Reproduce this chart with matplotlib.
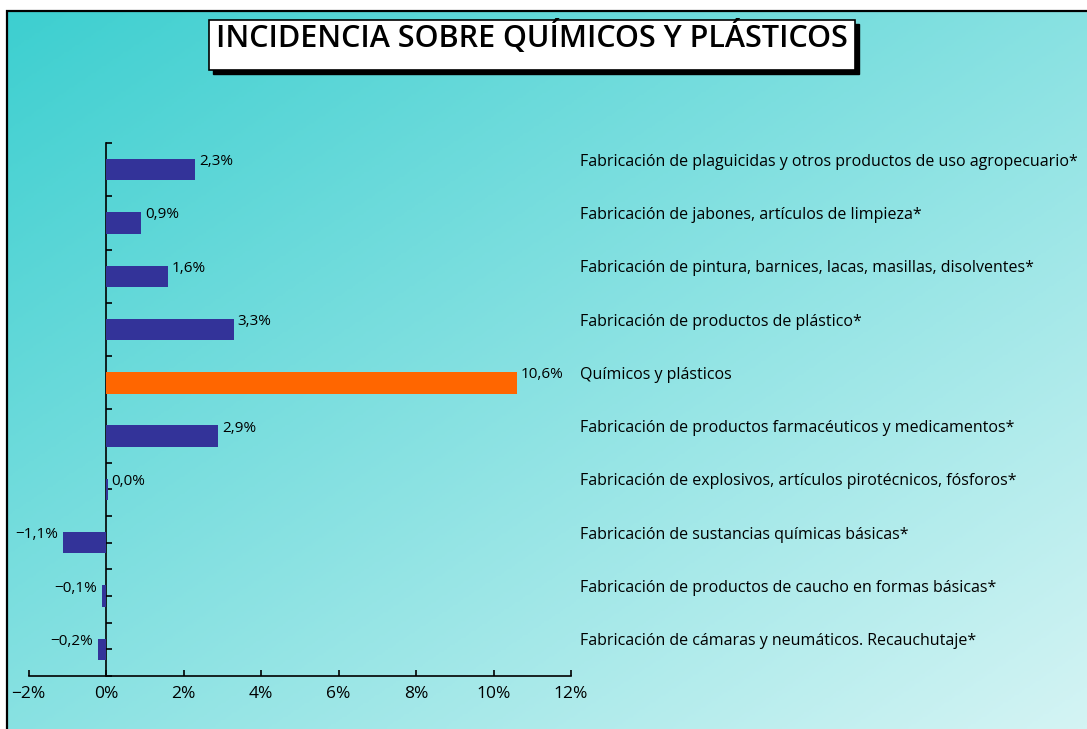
import numpy as np
import matplotlib.pyplot as plt
from matplotlib.patches import Rectangle
from matplotlib.colors import LinearSegmentedColormap

plt.rcParams['font.family'] = ['Open Sans', 'DejaVu Sans']

categorias = [
    'Fabricación de plaguicidas y otros productos de uso agropecuario*',
    'Fabricación de jabones, artículos de limpieza*',
    'Fabricación de pintura, barnices, lacas, masillas, disolventes*',
    'Fabricación de productos de plástico*',
    'Químicos y plásticos',
    'Fabricación de productos farmacéuticos y medicamentos*',
    'Fabricación de explosivos, artículos pirotécnicos, fósforos*',
    'Fabricación de sustancias químicas básicas*',
    'Fabricación de productos de caucho en formas básicas*',
    'Fabricación de cámaras y neumáticos. Recauchutaje*',
]
valores = [2.3, 0.9, 1.6, 3.3, 10.6, 2.9, 0.04, -1.1, -0.1, -0.2]
destacado = 'Químicos y plásticos'
ticks_x = [-2, 0, 2, 4, 6, 8, 10, 12]
titulo = 'INCIDENCIA SOBRE QUÍMICOS Y PLÁSTICOS'


def fmt(v):
    s = f'{v:.1f}%'.replace('.', ',')
    return s.replace('-', '\u2212')


W, H = 1087, 729
fig = plt.figure(figsize=(W / 100, H / 100), dpi=100)
fig.patch.set_facecolor('white')

# fondo degradado
bg = fig.add_axes([7 / W, 0, 1 - 7 / W, (H - 11) / H])
bg.set_axis_off()
xx, yy = np.meshgrid(np.linspace(0, 1, 400), np.linspace(0, 1, 300))
cmap = LinearSegmentedColormap.from_list('fondo', ['#3DCFD0', '#D4F4F4'])
bg.imshow((xx + yy) / 2, cmap=cmap, aspect='auto', extent=[0, 1, 1, 0])
fig.add_artist(Rectangle((7 / W, -0.1), 1.2, (H - 11) / H + 0.1, transform=fig.transFigure,
                         fill=False, lw=1.6, ec='black'))

ax = fig.add_axes([28.5 / W, (H - 676) / H, 542.5 / W, 533 / H])
ax.patch.set_visible(False)

y = np.arange(len(categorias))
colores = ['#FF6600' if c == destacado else '#333399' for c in categorias]
ax.barh(y, valores, height=0.4, color=colores, zorder=3)

ax.set_xlim(-2, 12)
ax.set_ylim(len(categorias) - 0.5, -0.5)
for s in ['top', 'right']:
    ax.spines[s].set_visible(False)
ax.spines['left'].set_position(('data', 0))
ax.spines['left'].set_linewidth(1.2)
ax.spines['bottom'].set_linewidth(1.2)

ax.set_yticks(np.arange(-0.5, len(categorias), 0.5))
ax.tick_params(axis='y', direction='in', length=4, width=1.2, labelleft=False)
ax.set_xticks(ticks_x)
ax.set_xticklabels([fmt(t).replace(',0', '') for t in ticks_x], fontsize=12.5)
ax.tick_params(axis='x', direction='in', length=4, width=1.2, pad=7)

for yi, v, c in zip(y, valores, categorias):
    if v >= 0:
        ax.annotate(fmt(v), (v, yi), xytext=(4, 8), textcoords='offset pixels',
                    ha='left', va='center', fontsize=11)
    else:
        ax.annotate(fmt(v), (v, yi), xytext=(-5, 8), textcoords='offset pixels',
                    ha='right', va='center', fontsize=11)
    ax.annotate(c, (1, yi), xycoords=('axes fraction', 'data'), xytext=(9, 8),
                textcoords='offset pixels', ha='left', va='center', fontsize=11.5)

# título con caja y sombra
x0, y0, w, h = 209 / W, (H - 70) / H, 646 / W, 50 / H
fig.add_artist(Rectangle((x0 + 4 / W, y0 - 4 / H), w, h, transform=fig.transFigure,
                         fc='black', ec='black', lw=1))
fig.add_artist(Rectangle((x0, y0), w, h, transform=fig.transFigure,
                         fc='white', ec='black', lw=1.2))
fig.text(216 / W, (H - 37) / H, titulo, fontsize=22, fontweight='semibold',
         ha='left', va='center')

fig.savefig('out.png', dpi=100)
